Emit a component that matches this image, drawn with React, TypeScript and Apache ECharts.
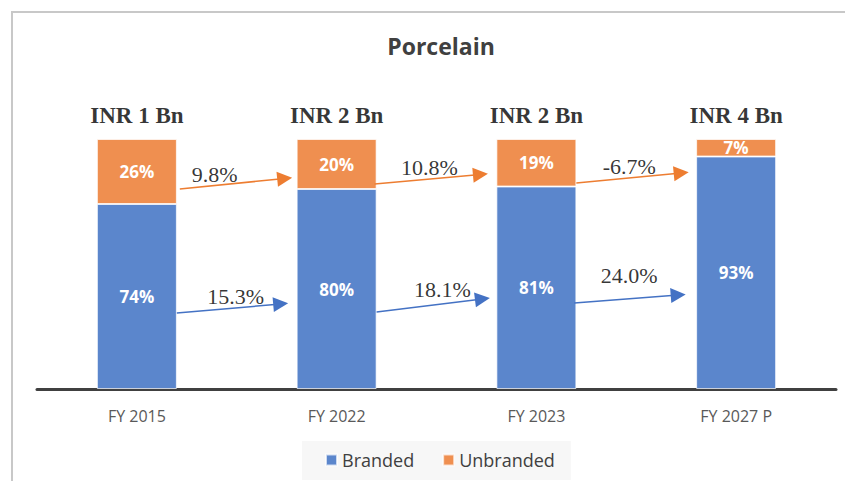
import React, { useEffect, useRef } from "react";
import * as echarts from "echarts";

const categories = ["FY 2015", "FY 2022", "FY 2023", "FY 2027 P"];
const branded = [74, 80, 81, 93];
const unbranded = [26, 20, 19, 7];
const totalLabels = ["INR 1 Bn", "INR 2 Bn", "INR 2 Bn", "INR 4 Bn"];
const brandedGrowth = ["15.3%", "18.1%", "24.0%"];
const unbrandedGrowth = ["9.8%", "10.8%", "-6.7%"];

// annotation layout (x in category-index units, y in % units)
const unbrandedArrowPos = [
  [[0.215, 80.0], [0.74, 84.2]],
  [[1.19, 82.0], [1.72, 85.8]],
  [[2.2, 82.4], [2.725, 86.4]],
];
const unbrandedTextPos = [[0.39, 86], [1.465, 88.8], [2.465, 89.2]];
const brandedArrowPos = [
  [[0.2, 30.4], [0.72, 34.0]],
  [[1.2, 30.8], [1.73, 36.0]],
  [[2.19, 34.4], [2.71, 37.6]],
];
const brandedTextPos = [[0.495, 37.2], [1.53, 40], [2.465, 45.6]];

const BLUE = "#5B86CC";
const ORANGE = "#EF8F50";
const BLUE_LINE = "#4472C4";
const ORANGE_LINE = "#ED7D31";

export default function App() {
  const ref = useRef<HTMLDivElement>(null);
  useEffect(() => {
    if (!ref.current) return;
    const chart = echarts.init(ref.current, null, { renderer: "svg" });
    const arrowSeries = (pos: number[][][], color: string) => ({
      type: "lines",
      coordinateSystem: "cartesian2d",
      xAxisIndex: 1,
      yAxisIndex: 0,
      z: 5,
      symbol: ["none", "triangle"],
      symbolSize: [12, 15],
      lineStyle: { color, width: 1.5, opacity: 1, curveness: 0 },
      itemStyle: { color },
      data: pos.map((p) => ({ coords: p })),
      silent: true,
    });
    const textSeries = (pos: number[][], labels: string[]) => ({
      type: "scatter",
      xAxisIndex: 1,
      yAxisIndex: 0,
      z: 6,
      symbolSize: 1,
      itemStyle: { color: "transparent" },
      data: pos.map((p) => p),
      label: {
        show: true,
        position: "inside",
        formatter: (p: any) => labels[p.dataIndex],
        fontFamily: "Liberation Serif",
        fontSize: 22,
        color: "#000",
      },
      silent: true,
    });
    const innerLabel = {
      show: true,
      position: "inside",
      formatter: "{c}%",
      color: "#fff",
      fontFamily: "Open Sans",
      fontWeight: "bold",
      fontSize: 17,
    };
    chart.setOption({
      animation: false,
      backgroundColor: "#fff",
      title: {
        text: "Porcelain",
        left: 436,
        textAlign: "center",
        top: 29,
        textStyle: {
          fontFamily: "Open Sans",
          fontWeight: "bold",
          fontSize: 23,
          color: "#404040",
        },
      },
      legend: {
        data: ["Branded", "Unbranded"],
        left: 302,
        top: 441,
        padding: [10, 16, 11, 23],
        backgroundColor: "#f7f7f7",
        itemWidth: 11,
        itemHeight: 11,
        itemGap: 28,
        icon: "rect",
        textStyle: { fontFamily: "Open Sans", fontSize: 18, color: "#404040" },
      },
      grid: { left: 37, right: 9, top: 139, bottom: 92 },
      xAxis: [
        {
          type: "category",
          data: categories,
          offset: 2,
          axisLine: { lineStyle: { color: "#404040", width: 3 } },
          axisTick: { show: false },
          axisLabel: {
            margin: 17,
            fontFamily: "Open Sans",
            fontSize: 16,
            color: "#595959",
          },
        },
        { type: "value", min: -0.5, max: 3.5, show: false },
      ],
      yAxis: { type: "value", min: 0, max: 100, show: false },
      graphic: [
        {
          type: "rect",
          shape: { x: 12, y: 12, width: 900, height: 600 },
          style: { fill: "none", stroke: "#c8c8c8", lineWidth: 2 },
          silent: true,
          z: 100,
        },
      ],
      series: [
        {
          name: "Branded",
          type: "bar",
          stack: "total",
          barWidth: 80,
          data: branded,
          itemStyle: { color: BLUE, borderColor: "rgba(255,255,255,0.7)", borderWidth: 1 },
          label: innerLabel,
        },
        {
          name: "Unbranded",
          type: "bar",
          stack: "total",
          barWidth: 80,
          data: unbranded,
          itemStyle: { color: ORANGE, borderColor: "rgba(255,255,255,0.7)", borderWidth: 1 },
          label: innerLabel,
        },
        {
          type: "scatter",
          symbolSize: 1,
          itemStyle: { color: "transparent" },
          data: categories.map((_, i) => branded[i] + unbranded[i]),
          label: {
            show: true,
            position: "top",
            distance: 12,
            formatter: (p: any) => totalLabels[p.dataIndex],
            fontFamily: "Liberation Serif",
            fontWeight: "bold",
            fontSize: 23,
            color: "#000",
          },
          silent: true,
        },
        arrowSeries(unbrandedArrowPos, ORANGE_LINE),
        arrowSeries(brandedArrowPos, BLUE_LINE),
        textSeries(unbrandedTextPos, unbrandedGrowth),
        textSeries(brandedTextPos, brandedGrowth),
      ],
    } as any);
    return () => chart.dispose();
  }, []);
  return (
    <div
      ref={ref}
      style={{ position: "fixed", left: 0, top: 0, width: 845, height: 481 }}
    />
  );
}
